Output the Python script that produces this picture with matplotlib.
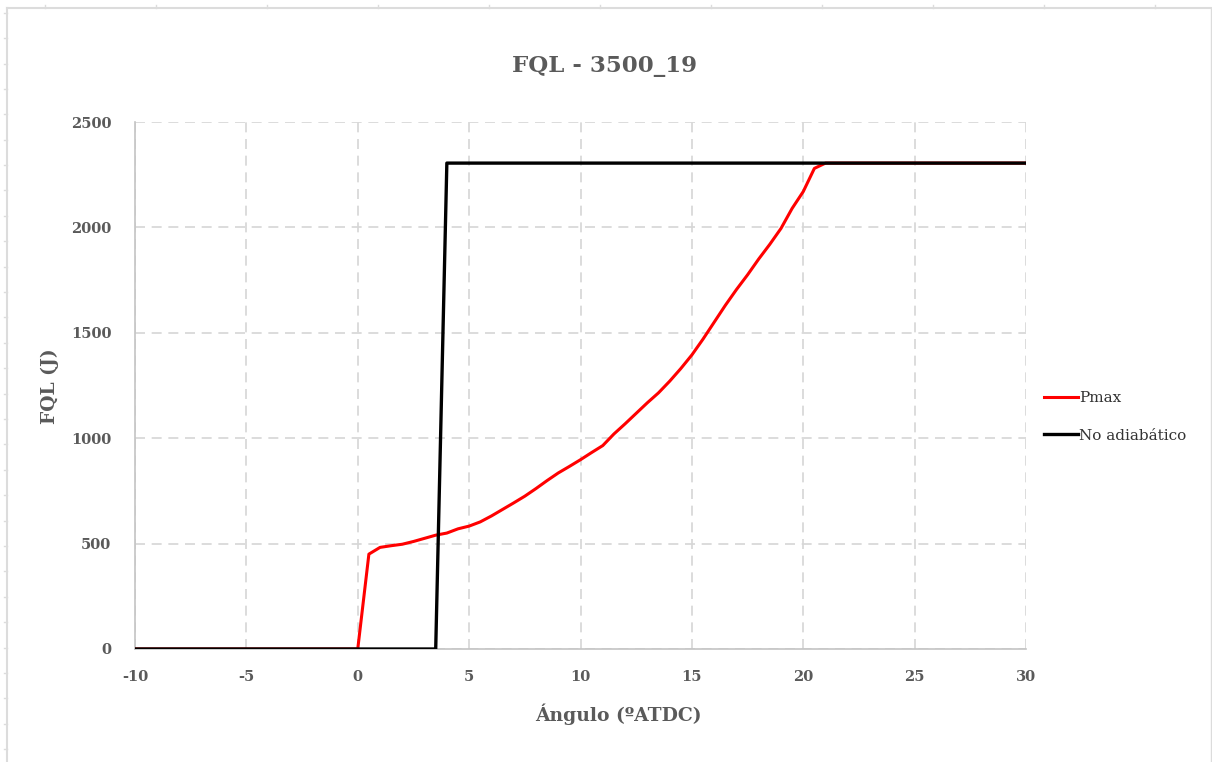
import numpy as np
import matplotlib.pyplot as plt
from matplotlib.lines import Line2D

plt.rcParams['axes.unicode_minus'] = False

# crank angle samples (deg ATDC), 0.5 deg step
angle = np.arange(-10, 30.01, 0.5)

# FQL from peak pressure, 0 J before ignition
pmax_burn = [0, 450, 482, 490, 497, 510, 525, 540, 550, 570, 583, 603, 631, 662,
             693, 725, 761, 799, 835, 866, 898, 932, 965, 1020, 1068, 1118, 1168,
             1215, 1270, 1330, 1395, 1470, 1550, 1630, 1705, 1775, 1850, 1920,
             1995, 2090, 2170, 2280, 2305]
n_pre = int(np.sum(angle < 0))
pmax = [0] * n_pre + pmax_burn + [2305] * (len(angle) - n_pre - len(pmax_burn))

# non-adiabatic model: step at 4 deg
no_adiab = [0 if a < 4 else 2305 for a in angle]

xticks = [-10, -5, 0, 5, 10, 15, 20, 25, 30]
yticks = [0, 500, 1000, 1500, 2000, 2500]

serif = ['DejaVu Serif']
txt_col = '#5a5a5a'

W, H = 1212, 762
fig = plt.figure(figsize=(W / 100, H / 100), dpi=100)
ax = fig.add_axes([135 / W, (H - 649) / H, (1026 - 135) / W, (649 - 122) / H])

l1, = ax.plot(angle, pmax, color='#ff0000', lw=2.2, label='Pmax', zorder=3)
l2, = ax.plot(angle, no_adiab, color='black', lw=2.4, label='No adiabático', zorder=4)

ax.set_xlim(-10, 30)
ax.set_ylim(0, 2500)
ax.set_xticks(xticks)
ax.set_yticks(yticks)
ax.grid(True, color='#d6d6d6', linestyle=(0, (6, 4)), lw=1.2)
ax.set_axisbelow(True)
for s in ['top', 'right']:
    ax.spines[s].set_visible(False)
for s in ['left', 'bottom']:
    ax.spines[s].set_color('#c4c4c4')
    ax.spines[s].set_linewidth(1.2)
ax.tick_params(length=0)
ax.tick_params(axis='y', pad=17)
ax.tick_params(axis='x', pad=15)
for lab in ax.get_xticklabels() + ax.get_yticklabels():
    lab.set_family(serif)
    lab.set_fontweight('bold')
    lab.set_fontsize(10.5)
    lab.set_color(txt_col)

fig.text(605 / W, 1 - 66 / H, 'FQL - 3500_19', ha='center', va='center',
         family=serif, fontweight='bold', fontsize=16.5, color=txt_col)
fig.text(618 / W, 1 - 714 / H, 'Ángulo (ºATDC)', ha='center', va='center',
         family=serif, fontweight='bold', fontsize=13.5, color=txt_col)
fig.text(50 / W, 1 - 386 / H, 'FQL (J)', ha='center', va='center', rotation=90,
         family=serif, fontweight='bold', fontsize=13.5, color=txt_col)

leg = fig.legend(handles=[l1, l2], loc='upper left',
                 bbox_to_anchor=(1038 / W, 1 - 385 / H), frameon=False,
                 handlelength=2.2, handletextpad=0.1, labelspacing=1.55,
                 borderaxespad=0, prop={'family': serif, 'size': 11})
for t in leg.get_texts():
    t.set_color('#333333')

# page frame with ruler ticks
fc = '#dcdcdc'
fig.add_artist(Line2D([7 / W, 7 / W], [0, 1 - 8 / H], color=fc, lw=1.5))
fig.add_artist(Line2D([7 / W, 1211 / W], [1 - 8 / H, 1 - 8 / H], color=fc, lw=1.5))
fig.add_artist(Line2D([1211 / W, 1211 / W], [0, 1 - 8 / H], color=fc, lw=1.0))
for yp in np.arange(12.7, H, 25.4):
    fig.add_artist(Line2D([4 / W, 7 / W], [1 - yp / H, 1 - yp / H], color=fc, lw=1))
for xp in np.arange(45, W, 111):
    fig.add_artist(Line2D([xp / W, xp / W], [1 - 5 / H, 1 - 8 / H], color=fc, lw=1))

fig.savefig('out.png', dpi=100, facecolor='white')
